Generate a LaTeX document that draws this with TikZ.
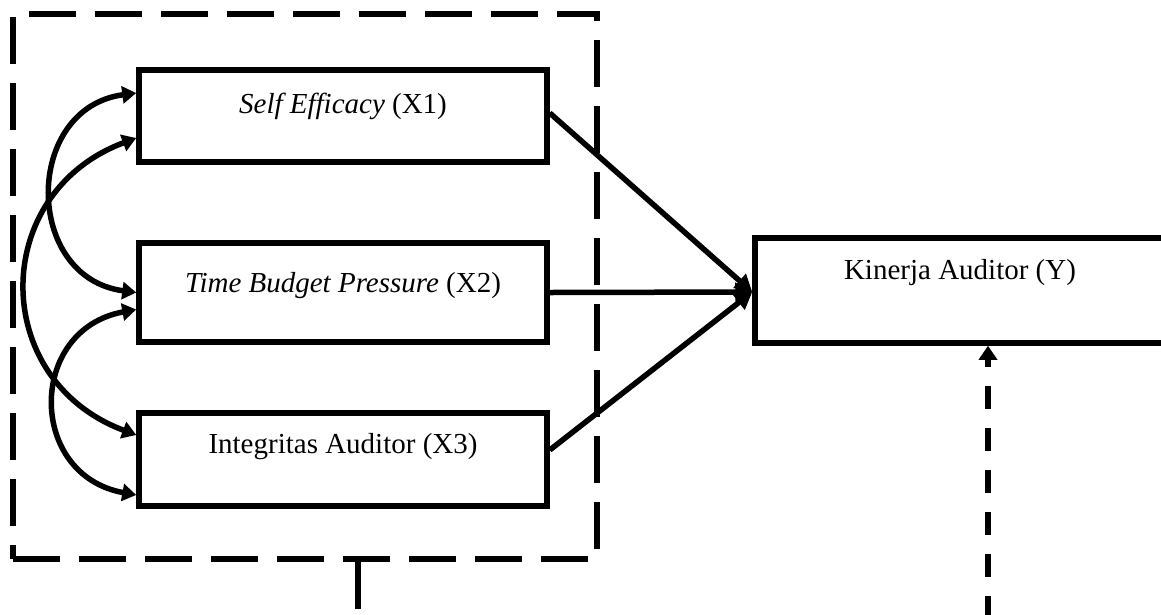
\documentclass[tikz,border=0pt]{standalone}
\usepackage{fontspec}
\setmainfont{Liberation Serif}
\usetikzlibrary{arrows.meta}
\begin{document}
\begin{tikzpicture}[x=1pt,y=-1pt,
  box/.style={draw, line width=5.5pt, inner sep=0pt, text height=20pt,
    font=\fontsize{29}{34}\selectfont},
  grp/.style={draw, line width=5.5pt, dash pattern=on 47pt off 19pt, inner sep=0pt},
  arr/.style={line width=5.5pt, -{Triangle[length=17pt,width=18pt]}},
  biarr/.style={line width=5.5pt, {Triangle[length=14pt,width=17pt]}-{Triangle[length=14pt,width=17pt]}},
  dashlong/.style={line width=5.5pt, dash pattern=on 47pt off 19pt},
  dashshort/.style={line width=5.5pt, dash pattern=on 23pt off 19pt, -{Triangle[length=14pt,width=18pt]}}
]
\path[use as bounding box, clip] (0,0) rectangle (1161,614);

% group frame
\node[grp, minimum width=584pt, minimum height=545pt] (G) at (305,286.5) {};

% boxes
\node[box, text depth=26pt, minimum width=408pt, minimum height=92pt] (X1) at (343,116)
  {\textit{Self Efficacy} (X1)};
\node[box, text depth=21pt, minimum width=408pt, minimum height=99pt] (X2) at (343,292.5)
  {\textit{Time Budget Pressure} (X2)};
\node[box, text depth=33pt, minimum width=408pt, minimum height=93pt] (X3) at (343,459.5)
  {Integritas Auditor (X3)};
\node[box, text depth=43pt, minimum width=410pt, minimum height=105pt] (Y) at (960,290.5)
  {Kinerja Auditor (Y)};

% straight arrows
\coordinate (Yin) at ([yshift=-1.5pt]Y.west);
\draw[arr] ([yshift=3pt]X1.east) -- (Yin);
\draw[arr] (X2.east) -- (Yin);
\draw[arr] ([yshift=9.5pt]X3.east) -- (Yin);

% correlation arcs
\draw[biarr] ([yshift=23pt]X1.west) .. controls +(-113,15) and +(-113,-15) .. (X2.west);
\draw[biarr] ([yshift=-22pt]X1.west) .. controls +(-147,55) and +(-147,-55) .. ([yshift=24.5pt]X3.west);
\draw[biarr] ([yshift=-17pt]X2.west) .. controls +(-109,20) and +(-109,-20) .. ([yshift=-35.5pt]X3.west);

% moderating dashed connector
\coordinate (Gd) at ([xshift=53pt]G.south);
\coordinate (Yd) at ([xshift=28pt]Y.south);
\path (Gd) ++(0,57) coordinate (Lc);
\coordinate (Rc) at (Lc -| Yd);
\draw[dashlong] (Gd) -- (Lc) -- (Rc);
\draw[dashshort] (Rc) -- (Yd);
\end{tikzpicture}
\end{document}
